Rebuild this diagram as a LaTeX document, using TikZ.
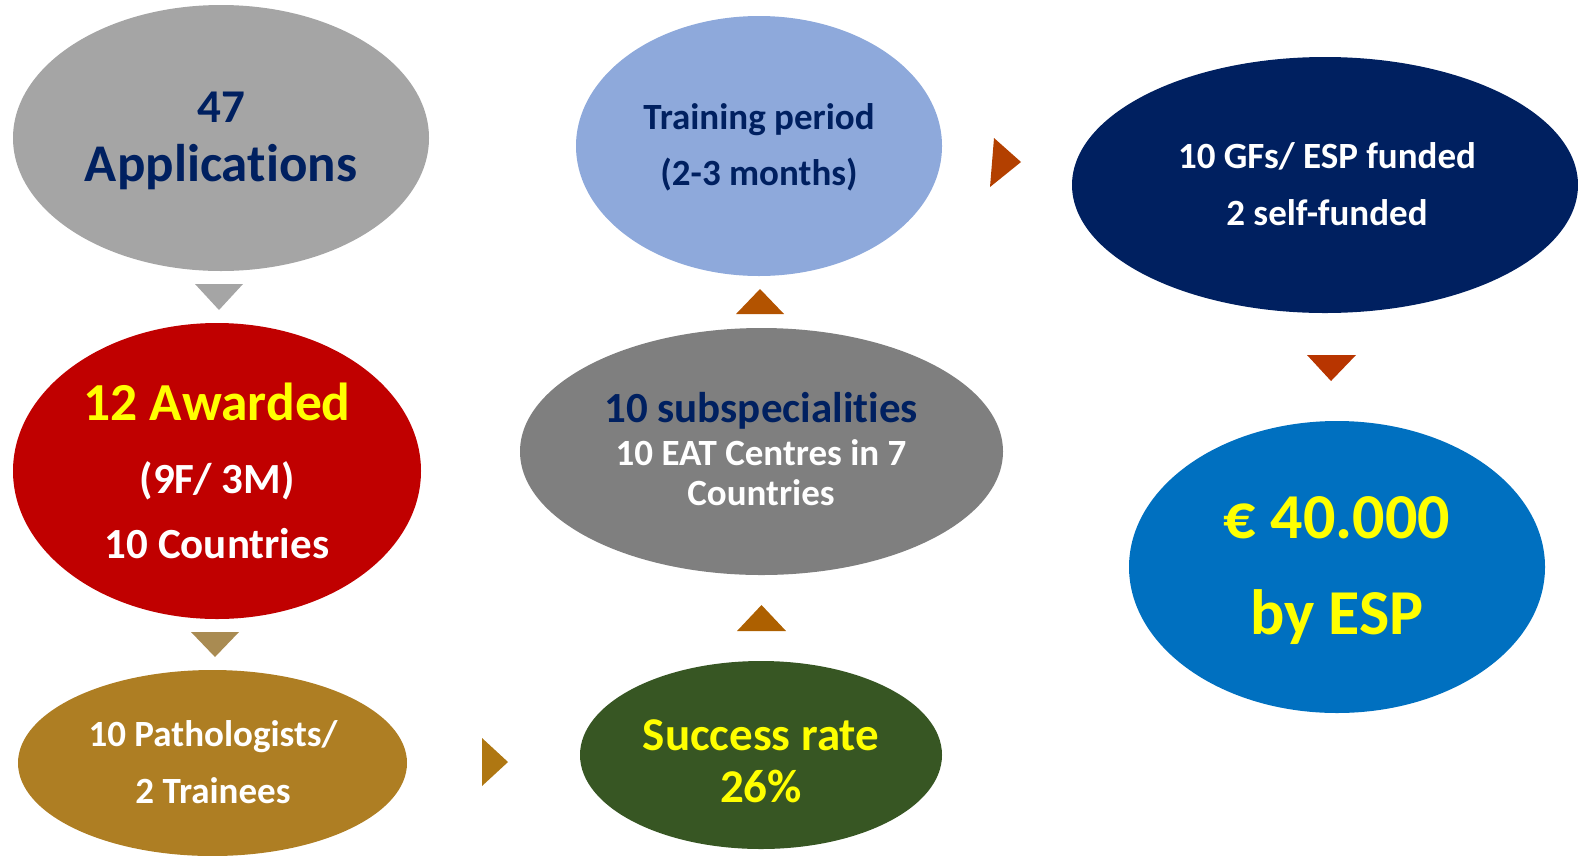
\documentclass[tikz,border=0pt]{standalone}
\usepackage{fontspec}
\setmainfont{Carlito}[Ligatures=NoCommon]
\usetikzlibrary{shapes.geometric}
\definecolor{cgray}{HTML}{A5A5A5}
\definecolor{cred}{HTML}{C00000}
\definecolor{cgold}{HTML}{AE7E23}
\definecolor{cgreen}{HTML}{375623}
\definecolor{cgraytwo}{HTML}{7F7F7F}
\definecolor{clblue}{HTML}{8EA9DB}
\definecolor{cnavy}{HTML}{002060}
\definecolor{cblue}{HTML}{0070C0}
\definecolor{cyel}{HTML}{FFFF00}
\definecolor{ctxt}{HTML}{002060}
\definecolor{ttan}{HTML}{A98B52}
\definecolor{tgold}{HTML}{AF7712}
\definecolor{tbrown}{HTML}{B35300}
\definecolor{tbrowntwo}{HTML}{AD6000}
\definecolor{trust}{HTML}{B34000}
\definecolor{trusttwo}{HTML}{B83500}
\newcommand{\fs}[1]{\fontsize{#1}{#1}\selectfont\bfseries}
\begin{document}
\begin{tikzpicture}[x=1pt,y=-1pt,
  ell/.style={ellipse,draw=none,inner sep=0pt},
  lbl/.style={anchor=base,inner sep=0pt}]
\useasboundingbox (0,0) rectangle (1578,855);
\clip (0,0) rectangle (1578,855);
% ellipses
\node[ell,fill=cgray,minimum width=416pt,minimum height=266pt] (app) at (221,138) {};
\node[ell,fill=cred,minimum width=408pt,minimum height=296pt] (awd) at (217,471) {};
\node[ell,fill=cgold,minimum width=389pt,minimum height=186pt] (path) at (212.5,763) {};
\node[ell,fill=cgreen,minimum width=362pt,minimum height=188pt] (succ) at (761,755) {};
\node[ell,fill=cgraytwo,minimum width=483pt,minimum height=247pt] (sub) at (761.5,451.5) {};
\node[ell,fill=clblue,minimum width=366pt,minimum height=260pt] (train) at (759,146) {};
\node[ell,fill=cnavy,minimum width=506pt,minimum height=256pt] (fund) at (1325,185) {};
\node[ell,fill=cblue,minimum width=416pt,minimum height=292pt] (eur) at (1337,567) {};
% triangles
\fill[cgray] (195,284) -- (243,284) -- (219,310) -- cycle;
\fill[ttan] (191,632) -- (239,632) -- (215,657) -- cycle;
\fill[tgold] (482,738) -- (482,786) -- (508,762) -- cycle;
\fill[tbrowntwo] (737,631) -- (786,631) -- (761.5,605) -- cycle;
\fill[tbrown] (736,314) -- (784,314) -- (760,289) -- cycle;
\fill[trust] (994,138) -- (990,187) -- (1021,162) -- cycle;
\fill[trusttwo] (1307,355) -- (1356,355) -- (1331,381) -- cycle;
% texts
\node[lbl,text=ctxt] (t1) at (221,122) {\fs{47}47};
\node[lbl,text=ctxt] (t2) at (221,181) {\fs{53}Applications};
\node[lbl,text=cyel] (t3) at (217,420) {\fs{53.5}12 Awarded};
\node[lbl,text=white] (t4) at (217,493) {\fs{43}(9F/ 3M)};
\node[lbl,text=white] (t5) at (217,558) {\fs{43}10 Countries};
\node[lbl,text=white] (t6) at (213,746) {\fs{37}10 Pathologists/};
\node[lbl,text=white] (t7) at (213,803) {\fs{37}2 Trainees};
\node[lbl,text=cyel] (t8) at (761,750) {\fs{47}Success rate};
\node[lbl,text=cyel] (t9) at (761,802) {\fs{47}26\%};
\node[lbl,text=ctxt] (t10) at (761,422) {\fs{43}10 subspecialities};
\node[lbl,text=white] (t11) at (761,465) {\fs{37}10 EAT Centres in 7};
\node[lbl,text=white] (t12) at (761,505) {\fs{37}Countries};
\node[lbl,text=ctxt] (t13) at (759,129) {\fs{37}Training period};
\node[lbl,text=ctxt] (t14) at (759,185) {\fs{37}(2-3 months)};
\node[lbl,text=white] (t15) at (1327,168) {\fs{37}10 GFs/ ESP funded};
\node[lbl,text=white] (t16) at (1327,225) {\fs{37}2 self-funded};
\node[lbl,text=cyel] (t17) at (1337,538) {\fs{64}€ 40.000};
\node[lbl,text=cyel] (t18) at (1337,634) {\fs{64}by ESP};
\end{tikzpicture}
\end{document}
